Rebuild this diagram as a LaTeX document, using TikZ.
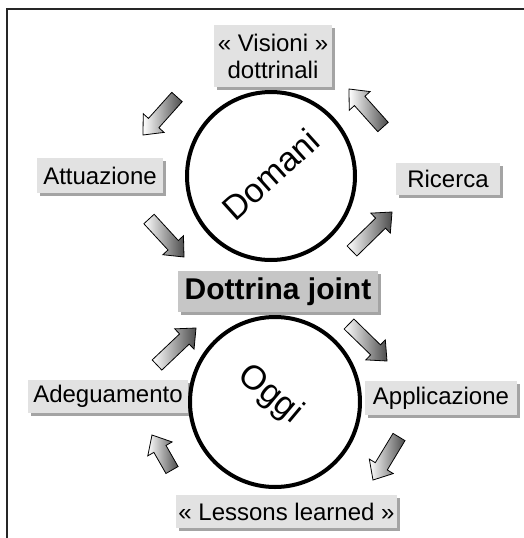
\documentclass[tikz,border=0pt]{standalone}
\usepackage{fontspec}
\setmainfont{Liberation Sans}
\usetikzlibrary{calc,shadows}
\definecolor{boxgray}{HTML}{E2E2E2}
\definecolor{boxdark}{HTML}{C6C6C6}
\definecolor{shadowgray}{HTML}{A4A4A4}
\newcommand{\blockarrow}[2]{%
  \coordinate (#1b) at ($(#2)!16pt!(#1)$);
  \path[barrow] ($(#1)!7pt!90:(#2)$) -- ($(#1b)!7pt!90:(#2)$) -- ($(#1b)!14pt!90:(#2)$)
     -- (#2) -- ($(#1b)!14pt!-90:(#2)$) -- ($(#1b)!7pt!-90:(#2)$) -- ($(#1)!7pt!-90:(#2)$) -- cycle;
}
\begin{document}
\begin{tikzpicture}[x=1pt,y=-1pt,
  lbl/.style={fill=boxgray, inner sep=0pt, outer sep=0pt,
    font=\fontsize{24}{27}\selectfont,
    drop shadow={shadow xshift=3pt, shadow yshift=-3pt, fill=shadowgray, opacity=1}},
  circ/.style={circle, draw=black, line width=4pt, inner sep=0pt},
  rottxt/.style={inner sep=0pt, font=\fontsize{34}{36}\selectfont},
  barrow/.style={draw=black, line width=0.8pt, left color=white, right color=black!70},
  frame/.style={draw=black!85, line width=2.5pt}]
\useasboundingbox (0,0) rectangle (524,538);
% frame
\coordinate (fbl) at (7,538);
\coordinate (ftl) at (7,9);
\coordinate (ftr) at (524,9);
\draw[frame] (fbl) -- (ftl) -- (ftr);
% boxes
\node[lbl, minimum width=118pt, minimum height=62pt, align=center] (vis) at (273,56) {« Visioni »\\dottrinali};
\node[lbl, minimum width=126pt, minimum height=35pt] (att) at (100,175.5) {Attuazione};
\node[lbl, minimum width=104pt, minimum height=32pt] (ric) at (448,179) {Ricerca};
\node[lbl, fill=boxdark, minimum width=200pt, minimum height=41pt, font=\fontsize{30}{32}\selectfont\bfseries] (dj) at (278,291.5) {Dottrina joint};
\node[lbl, minimum width=160pt, minimum height=33pt] (ade) at (108,396.5) {Adeguamento};
\node[lbl, minimum width=152pt, minimum height=34pt] (app) at (441,398) {Applicazione};
\node[lbl, minimum width=221pt, minimum height=33pt] (les) at (286.5,511.5) {« Lessons learned »};
% circles
\node[circ, minimum size=168pt] (domani) at (271,176) {};
\node[circ, minimum size=170pt] (oggi) at (275,402) {};
\node[rottxt, rotate=42] (domanit) at (270.5,174.5) {Domani};
\node[rottxt, rotate=-40] (oggit) at (270,395) {Oggi};
% arrows
\coordinate (a1) at (177,97);  \coordinate (a1h) at (143,135);
\coordinate (a2) at (383,127); \coordinate (a2h) at (349,89);
\coordinate (a3) at (149,219); \coordinate (a3h) at (184,257);
\coordinate (a4) at (352,251); \coordinate (a4h) at (392,212);
\coordinate (a5) at (157,365); \coordinate (a5h) at (196,328);
\coordinate (a6) at (349,324); \coordinate (a6h) at (387,361);
\coordinate (a7) at (399,437); \coordinate (a7h) at (373,480);
\coordinate (a8) at (172,470); \coordinate (a8h) at (152,435);
\blockarrow{a1}{a1h}
\blockarrow{a2}{a2h}
\blockarrow{a3}{a3h}
\blockarrow{a4}{a4h}
\blockarrow{a5}{a5h}
\blockarrow{a6}{a6h}
\blockarrow{a7}{a7h}
\blockarrow{a8}{a8h}
\end{tikzpicture}
\end{document}
